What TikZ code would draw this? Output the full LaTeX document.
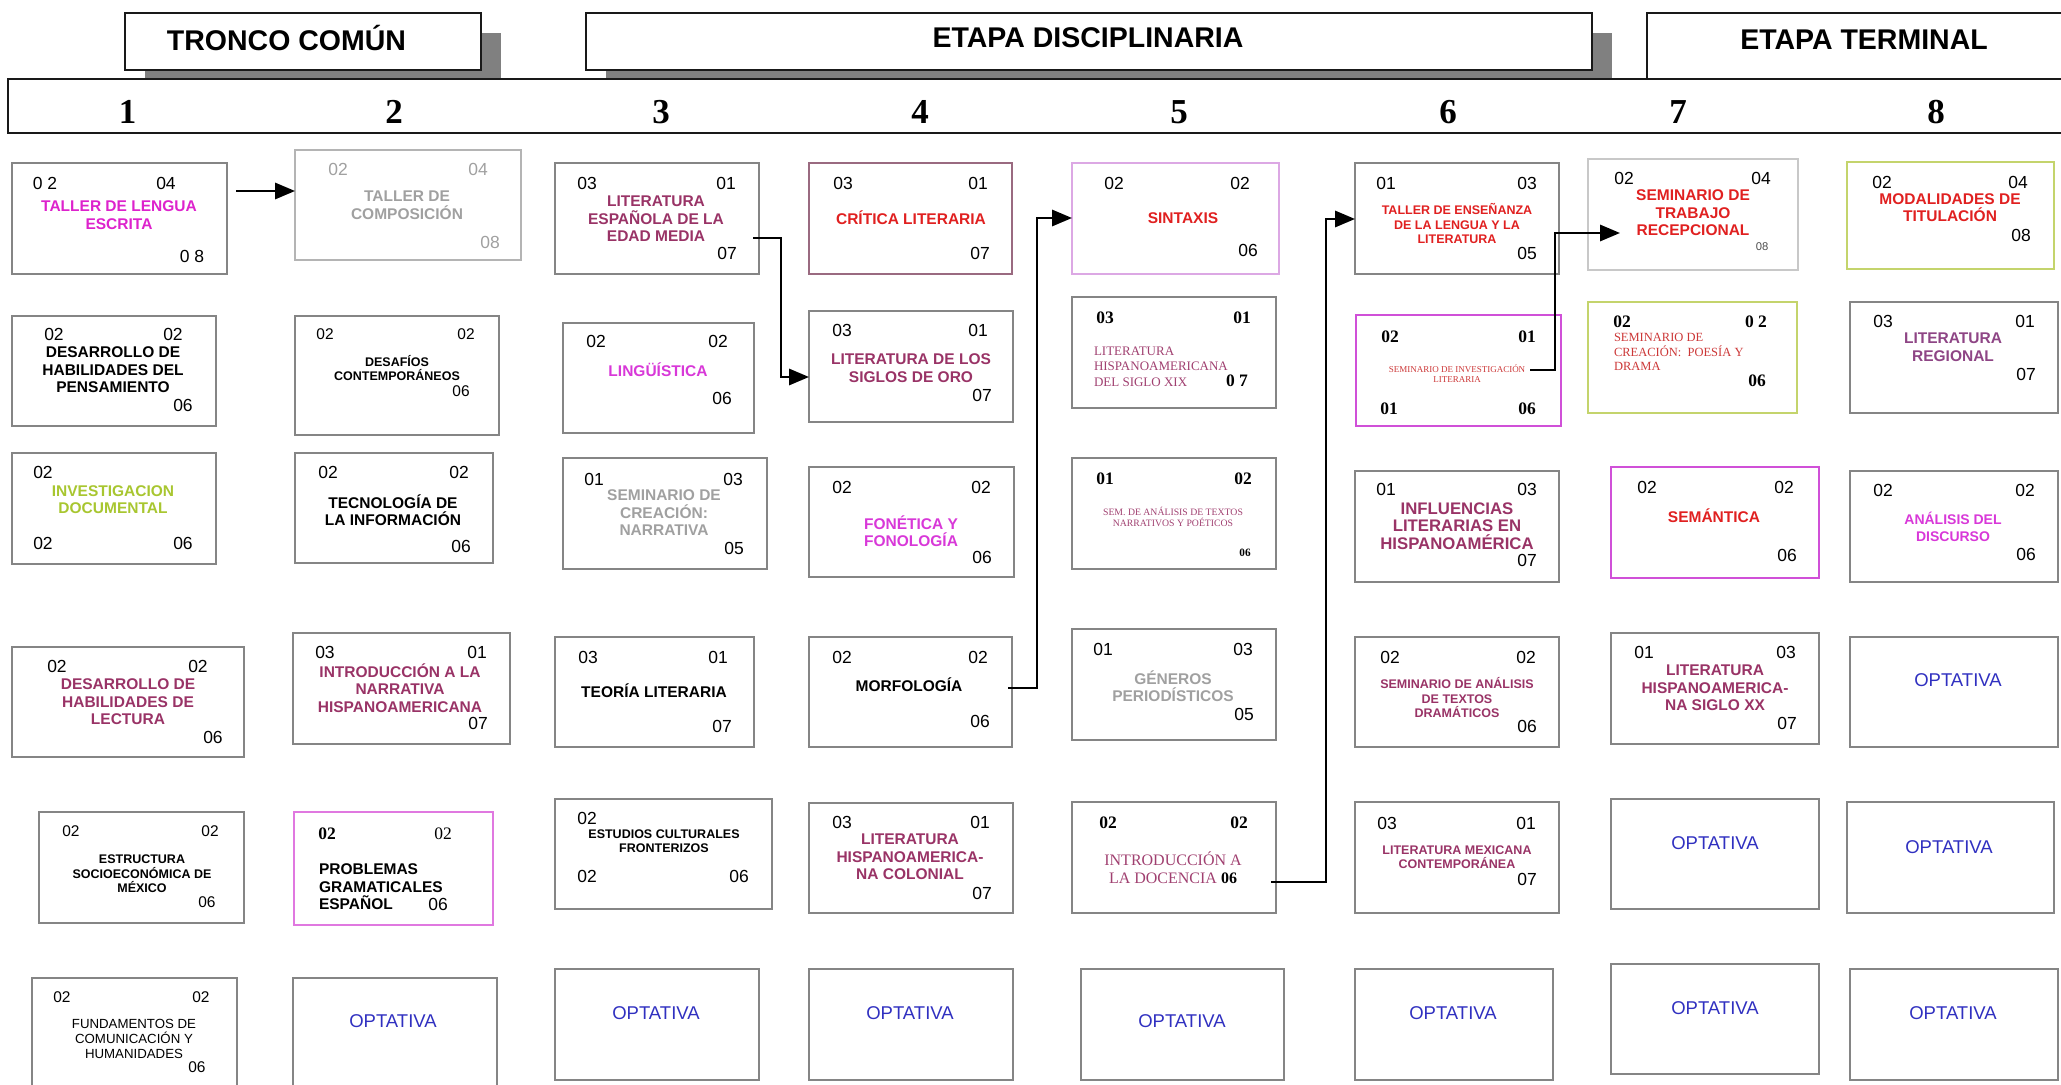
\documentclass[tikz,border=0pt]{standalone}
\usepackage{fontspec}
\setmainfont{Liberation Serif}
\setsansfont{Liberation Sans}
\usetikzlibrary{arrows.meta}
\definecolor{boxgray}{HTML}{858585}
\definecolor{lgray}{HTML}{B4B4B4}
\definecolor{lgraytwo}{HTML}{C8C8C8}
\definecolor{shadowgray}{HTML}{808080}
\definecolor{magA}{HTML}{DD22CC}
\definecolor{magB}{HTML}{D838D8}
\definecolor{magC}{HTML}{D050D8}
\definecolor{pinkb}{HTML}{E078E0}
\definecolor{violetb}{HTML}{DCA8E4}
\definecolor{mauve}{HTML}{9A6A80}
\definecolor{ygb}{HTML}{C4D46C}
\definecolor{ygt}{HTML}{A8C630}
\definecolor{maroon}{HTML}{993366}
\definecolor{smaroon}{HTML}{A04070}
\definecolor{redt}{HTML}{E02020}
\definecolor{sred}{HTML}{CC3838}
\definecolor{grayt}{HTML}{A0A0A0}
\definecolor{optblue}{HTML}{3030C0}
\definecolor{purplet}{HTML}{8E4585}
\newcounter{tn}
\newcommand\mytx[3][]{\stepcounter{tn}\node[txt,#1] (t\arabic{tn}) at (#2) {#3};}
\newcommand\mybox[6]{\node[cbox,draw=#6,minimum width={(#4-#2)*0.4pt},minimum height={(#5-#3)*0.4pt}] (#1) at ({(#2+#4)/2},{(#3+#5)/2}) {};}
\begin{document}
\begin{tikzpicture}[x=0.4pt,y=-0.4pt,
  txt/.style={inner sep=0pt,outer sep=0pt,align=center,anchor=center},
  cbox/.style={rectangle,inner sep=0pt,outer sep=0pt,line width=0.8pt},
  hbox/.style={rectangle,inner sep=0pt,outer sep=0pt,line width=1pt,draw=black!90,fill=white},
  htxt/.style={font=\fontsize{11.4}{11.4}\selectfont\sffamily\bfseries},
  colnum/.style={font=\fontsize{14}{14}\selectfont\rmfamily\bfseries},
  num/.style={font=\fontsize{7}{7}\selectfont\sffamily,text=black},
  numsm/.style={font=\fontsize{6.2}{6.2}\selectfont\sffamily,text=black},
  numtiny/.style={font=\fontsize{4.5}{4.5}\selectfont\sffamily,text=black!70},
  nums/.style={font=\fontsize{7}{7}\selectfont\rmfamily\bfseries,text=black},
  numsr/.style={font=\fontsize{7}{7}\selectfont\rmfamily,text=black},
  numst/.style={font=\fontsize{4.5}{4.5}\selectfont\rmfamily\bfseries,text=black},
  ttl/.style={font=\fontsize{6.2}{7}\selectfont\sffamily\bfseries},
  ttls/.style={font=\fontsize{5}{5.8}\selectfont\sffamily\bfseries},
  ttlr/.style={font=\fontsize{5.3}{5.9}\selectfont\sffamily},
  opt/.style={font=\fontsize{7.4}{7.4}\selectfont\sffamily,text=optblue},
  arr/.style={line width=1pt,draw=black,-{Triangle[length=8pt,width=6.5pt]}}]
\useasboundingbox (0,0) rectangle (2061,1085);
% header shadows
\fill[shadowgray] (145,33) rectangle (501,79);
\fill[shadowgray] (606,33) rectangle (1612,79);
% header bar
\node[hbox,minimum width={(2080-8)*0.4pt},minimum height={(133-79)*0.4pt}] (bar) at ({(8+2080)/2},106) {};
\node[hbox,minimum width={(481-125)*0.4pt},minimum height={(70-13)*0.4pt}] (tronco) at (303,41.5) {};
\node[hbox,minimum width={(1592-586)*0.4pt},minimum height={(70-13)*0.4pt}] (discip) at (1089,41.5) {};
\node[hbox,minimum width={(2080-1647)*0.4pt},minimum height={(79-13)*0.4pt}] (termin) at ({(1647+2080)/2},46) {};
\mytx[htxt]{286.5,38}{TRONCO COMÚN}
\mytx[htxt]{1088,38}{ETAPA DISCIPLINARIA}
\mytx[htxt]{1864,39.5}{ETAPA TERMINAL}
\mytx[colnum]{127.5,112}{1}
\mytx[colnum]{394,112}{2}
\mytx[colnum]{661,112}{3}
\mytx[colnum]{920,112}{4}
\mytx[colnum]{1179,112}{5}
\mytx[colnum]{1448,112}{6}
\mytx[colnum]{1678,112}{7}
\mytx[colnum]{1936,112}{8}
% ---------- column 1
\mybox{c1r1}{12}{163}{227}{274}{boxgray}
\mytx[num]{45,183}{0 2}\mytx[num]{166,183}{04}\mytx[num]{192,256}{0 8}
\mytx[ttl,text=magA]{119,215}{TALLER DE LENGUA\\ESCRITA}
\mybox{c1r2}{12}{316}{216}{426}{boxgray}
\mytx[num]{54,334}{02}\mytx[num]{173,334}{02}\mytx[num]{183,405}{06}
\mytx[ttl,text=black]{113,370}{DESARROLLO DE\\HABILIDADES DEL\\PENSAMIENTO}
\mybox{c1r3}{12}{453}{216}{564}{boxgray}
\mytx[num]{43,472}{02}\mytx[num]{43,543}{02}\mytx[num]{183,543}{06}
\mytx[ttl,text=ygt]{113,499.5}{INVESTIGACION\\DOCUMENTAL}
\mybox{c1r4}{12}{647}{244}{757}{boxgray}
\mytx[num]{57,666}{02}\mytx[num]{198,666}{02}\mytx[num]{213,737}{06}
\mytx[ttl,text=maroon]{128,702}{DESARROLLO DE\\HABILIDADES DE\\LECTURA}
\mybox{c1r5}{39}{812}{244}{923}{boxgray}
\mytx[numsm]{71,831}{02}\mytx[numsm]{210,831}{02}\mytx[numsm]{207,902}{06}
\mytx[ttls,text=black]{142,874}{ESTRUCTURA\\SOCIOECONÓMICA DE\\MÉXICO}
\mybox{c1r6}{32}{978}{237}{1095}{boxgray}
\mytx[numsm]{62,997}{02}\mytx[numsm]{201,997}{02}\mytx[numsm]{197,1067}{06}
\mytx[ttlr,text=black]{134,1039}{FUNDAMENTOS DE\\COMUNICACIÓN Y\\HUMANIDADES}
% ---------- column 2
\mybox{c2r1}{295}{150}{521}{260}{lgray}
\mytx[num,text=grayt]{338,169}{02}\mytx[num,text=grayt]{478,169}{04}\mytx[num,text=grayt]{490,242}{08}
\mytx[ttl,text=grayt]{407,205}{TALLER DE\\COMPOSICIÓN}
\mybox{c2r2}{295}{316}{499}{435}{boxgray}
\mytx[numsm]{325,334}{02}\mytx[numsm]{466,334}{02}\mytx[numsm]{461,391}{06}
\mytx[ttls,text=black]{397,368}{DESAFÍOS\\CONTEMPORÁNEOS}
\mybox{c2r3}{295}{453}{493}{563}{boxgray}
\mytx[num]{328,472}{02}\mytx[num]{459,472}{02}\mytx[num]{461,546}{06}
\mytx[ttl,text=black]{393,510}{TECNOLOGÍA DE\\LA INFORMACIÓN}
\mybox{c2r4}{293}{633}{510}{744}{boxgray}
\mytx[num]{325,652}{03}\mytx[num]{477,652}{01}\mytx[num]{478,723}{07}
\mytx[ttl,text=maroon]{400,688}{INTRODUCCIÓN A LA\\NARRATIVA\\HISPANOAMERICANA}
\mybox{c2r5}{294}{812}{493}{925}{pinkb}
\mytx[nums]{327,834}{02}\mytx[numsr]{443,834}{02}\mytx[num]{438,904}{06}
\mytx[ttl,text=black,align=left,anchor=west]{319,886.7}{PROBLEMAS\\GRAMATICALES\\ESPAÑOL}
\mybox{c2r6}{293}{978}{497}{1095}{boxgray}
\mytx[opt]{393,1021}{OPTATIVA}
% ---------- column 3
\mybox{c3r1}{555}{163}{759}{274}{boxgray}
\mytx[num]{587,183}{03}\mytx[num]{726,183}{01}\mytx[num]{727,253}{07}
\mytx[ttl,text=maroon]{656,219}{LITERATURA\\ESPAÑOLA DE LA\\EDAD MEDIA}
\mybox{c3r2}{563}{323}{754}{433}{boxgray}
\mytx[num]{596,341}{02}\mytx[num]{718,341}{02}\mytx[num]{722,398}{06}
\mytx[ttl,text=magB]{658,370}{LINGÜÍSTICA}
\mybox{c3r3}{563}{458}{767}{569}{boxgray}
\mytx[num]{594,479}{01}\mytx[num]{733,479}{03}\mytx[num]{734,548}{05}
\mytx[ttl,text=grayt]{664,513}{SEMINARIO DE\\CREACIÓN:\\NARRATIVA}
\mybox{c3r4}{555}{637}{754}{747}{boxgray}
\mytx[num]{588,657}{03}\mytx[num]{718,657}{01}\mytx[num]{722,726}{07}
\mytx[ttl,text=black]{654,691}{TEORÍA LITERARIA}
\mybox{c3r5}{555}{799}{772}{909}{boxgray}
\mytx[num]{587,818}{02}\mytx[num]{587,876}{02}\mytx[num]{739,876}{06}
\mytx[ttls,text=black]{664,841}{ESTUDIOS CULTURALES\\FRONTERIZOS}
\mybox{c3r6}{555}{969}{759}{1080}{boxgray}
\mytx[opt]{656,1013}{OPTATIVA}
% ---------- column 4
\mybox{c4r1}{809}{163}{1012}{274}{mauve}
\mytx[num]{843,183}{03}\mytx[num]{978,183}{01}\mytx[num]{980,253}{07}
\mytx[ttl,text=redt]{911,218}{CRÍTICA LITERARIA}
\mybox{c4r2}{809}{311}{1013}{422}{boxgray}
\mytx[num]{842,330}{03}\mytx[num]{978,330}{01}\mytx[num]{982,395}{07}
\mytx[ttl,text=maroon]{911,368}{LITERATURA DE LOS\\SIGLOS DE ORO}
\mybox{c4r3}{809}{467}{1014}{577}{boxgray}
\mytx[num]{842,487}{02}\mytx[num]{981,487}{02}\mytx[num]{982,557}{06}
\mytx[ttl,text=magB]{911,531}{FONÉTICA Y\\FONOLOGÍA}
\mybox{c4r4}{809}{637}{1012}{747}{boxgray}
\mytx[num]{842,657}{02}\mytx[num]{978,657}{02}\mytx[num]{980,721}{06}
\mytx[ttl,text=black]{909,685}{MORFOLOGÍA}
\mybox{c4r5}{809}{803}{1013}{913}{boxgray}
\mytx[num]{842,822}{03}\mytx[num]{980,822}{01}\mytx[num]{982,893}{07}
\mytx[ttl,text=maroon]{910,857}{LITERATURA\\HISPANOAMERICA-\\NA COLONIAL}
\mybox{c4r6}{809}{969}{1013}{1080}{boxgray}
\mytx[opt]{910,1013}{OPTATIVA}
% ---------- column 5
\mybox{c5r1}{1072}{163}{1279}{274}{violetb}
\mytx[num]{1114,183}{02}\mytx[num]{1240,183}{02}\mytx[num]{1248,250}{06}
\mytx[ttl,text=redt]{1183,218}{SINTAXIS}
\mybox{c5r2}{1072}{297}{1276}{408}{boxgray}
\mytx[nums]{1105,318}{03}\mytx[nums]{1242,318}{01}\mytx[nums]{1237,381}{0 7}
\mytx[font=\fontsize{5.2}{6.1}\selectfont\rmfamily,text=smaroon,align=left,anchor=west]{1094,366.7}{LITERATURA\\HISPANOAMERICANA\\DEL SIGLO XIX}
\mybox{c5r3}{1072}{458}{1276}{569}{boxgray}
\mytx[nums]{1105,479}{01}\mytx[nums]{1243,479}{02}\mytx[numst]{1245,553}{06}
\mytx[font=\fontsize{3.9}{4.6}\selectfont\rmfamily,text=smaroon]{1173,517}{SEM. DE ANÁLISIS DE TEXTOS\\NARRATIVOS Y POÉTICOS}
\mybox{c5r4}{1072}{629}{1276}{740}{boxgray}
\mytx[num]{1103,649}{01}\mytx[num]{1243,649}{03}\mytx[num]{1244,714}{05}
\mytx[ttl,text=grayt]{1173,686}{GÉNEROS\\PERIODÍSTICOS}
\mybox{c5r5}{1072}{802}{1276}{913}{boxgray}
\mytx[nums]{1108,823}{02}\mytx[nums]{1239,823}{02}
\mytx[font=\fontsize{6.4}{7.4}\selectfont\rmfamily,text=smaroon]{1173,867.5}{INTRODUCCIÓN A\\LA DOCENCIA \textcolor{black}{\bfseries 06}}
\mybox{c5r6}{1081}{969}{1284}{1080}{boxgray}
\mytx[opt]{1182,1021}{OPTATIVA}
% ---------- column 6
\mybox{c6r1}{1355}{163}{1559}{274}{boxgray}
\mytx[num]{1386,183}{01}\mytx[num]{1527,183}{03}\mytx[num]{1527,253}{05}
\mytx[ttls,text=redt]{1457,224}{TALLER DE ENSEÑANZA\\DE LA LENGUA Y LA\\LITERATURA}
\mybox{c6r2}{1356}{315}{1561}{426}{magC}
\mytx[nums]{1390,337}{02}\mytx[nums]{1527,337}{01}\mytx[nums]{1389,409}{01}\mytx[nums]{1527,409}{06}
\mytx[font=\fontsize{3.6}{3.9}\selectfont\rmfamily,text=sred]{1457,374}{SEMINARIO DE INVESTIGACIÓN\\LITERARIA}
\mybox{c6r3}{1355}{471}{1559}{582}{boxgray}
\mytx[num]{1386,489}{01}\mytx[num]{1527,489}{03}\mytx[num]{1527,560}{07}
\mytx[font=\fontsize{6.7}{7}\selectfont\sffamily\bfseries,text=maroon]{1457,526}{INFLUENCIAS\\LITERARIAS EN\\HISPANOAMÉRICA}
\mybox{c6r4}{1355}{637}{1559}{747}{boxgray}
\mytx[num]{1390,657}{02}\mytx[num]{1526,657}{02}\mytx[num]{1527,726}{06}
\mytx[ttls,text=maroon]{1457,698}{SEMINARIO DE ANÁLISIS\\DE TEXTOS\\DRAMÁTICOS}
\mybox{c6r5}{1355}{802}{1559}{913}{boxgray}
\mytx[num]{1387,823}{03}\mytx[num]{1526,823}{01}\mytx[num]{1527,879}{07}
\mytx[ttls,text=maroon]{1457,857}{LITERATURA MEXICANA\\CONTEMPORÁNEA}
\mybox{c6r6}{1355}{969}{1553}{1080}{boxgray}
\mytx[opt]{1453,1013}{OPTATIVA}
% ---------- column 7
\mybox{c7r1}{1588}{159}{1798}{270}{lgraytwo}
\mytx[num]{1624,178}{02}\mytx[num]{1761,178}{04}\mytx[numtiny]{1762,247}{08}
\mytx[ttl,text=redt]{1693,213}{SEMINARIO DE\\TRABAJO\\RECEPCIONAL}
\mybox{c7r2}{1588}{302}{1797}{413}{ygb}
\mytx[nums]{1622,322}{02}\mytx[nums]{1756,322}{0 2}\mytx[nums]{1757,381}{06}
\mytx[font=\fontsize{5}{5.8}\selectfont\rmfamily,text=sred,align=left,anchor=west]{1614,352.3}{SEMINARIO DE\\CREACIÓN:~ POESÍA Y\\DRAMA}
\mybox{c7r3}{1611}{467}{1819}{578}{magC}
\mytx[num]{1647,487}{02}\mytx[num]{1784,487}{02}\mytx[num]{1787,555}{06}
\mytx[ttl,text=redt]{1714,516}{SEMÁNTICA}
\mybox{c7r4}{1611}{633}{1819}{744}{boxgray}
\mytx[num]{1644,652}{01}\mytx[num]{1786,652}{03}\mytx[num]{1787,723}{07}
\mytx[ttl,text=maroon]{1715,688}{LITERATURA\\HISPANOAMERICA-\\NA SIGLO XX}
\mybox{c7r5}{1611}{799}{1819}{909}{boxgray}
\mytx[opt]{1715,843}{OPTATIVA}
\mybox{c7r6}{1611}{964}{1819}{1074}{boxgray}
\mytx[opt]{1715,1008}{OPTATIVA}
% ---------- column 8
\mybox{c8r1}{1847}{162}{2054}{269}{ygb}
\mytx[num]{1882,182}{02}\mytx[num]{2018,182}{04}\mytx[num]{2021,235}{08}
\mytx[ttl,text=redt]{1950,207.5}{MODALIDADES DE\\TITULACIÓN}
\mybox{c8r2}{1850}{302}{2058}{413}{boxgray}
\mytx[num]{1883,321}{03}\mytx[num]{2025,321}{01}\mytx[num]{2026,374}{07}
\mytx[ttl,text=purplet]{1953,347}{LITERATURA\\REGIONAL}
\mybox{c8r3}{1850}{471}{2058}{582}{boxgray}
\mytx[num]{1883,490}{02}\mytx[num]{2025,490}{02}\mytx[num]{2026,554}{06}
\mytx[font=\fontsize{5.6}{6.8}\selectfont\sffamily\bfseries,text=magB]{1953,527}{ANÁLISIS DEL\\DISCURSO}
\mybox{c8r4}{1850}{637}{2058}{747}{boxgray}
\mytx[opt]{1958,680}{OPTATIVA}
\mybox{c8r5}{1847}{802}{2054}{913}{boxgray}
\mytx[opt]{1949,847}{OPTATIVA}
\mybox{c8r6}{1850}{969}{2058}{1080}{boxgray}
\mytx[opt]{1953,1013}{OPTATIVA}
% ---------- connectors
\coordinate (a1s) at (236,191);
\draw[arr] (a1s) -- (a1s -| c2r1.west);
\coordinate (a2s) at (753,238);
\coordinate (a2b) at (781,377);
\draw[arr] (a2s) -| (a2b) -- (a2b -| c4r2.west);
\coordinate (a3s) at (1008,688);
\coordinate (a3b) at (1037,218);
\draw[arr] (a3s) -| (a3b) -- (a3b -| c5r1.west);
\coordinate (a4s) at (1271,882);
\coordinate (a4b) at (1326,219);
\draw[arr] (a4s) -| (a4b) -- (a4b -| c6r1.west);
\coordinate (a5s) at (1530,370);
\coordinate (a5b) at (1555,233);
\coordinate (a5e) at (1620,233);
\draw[arr] (a5s) -| (a5b) -- (a5e);
\end{tikzpicture}
\end{document}
